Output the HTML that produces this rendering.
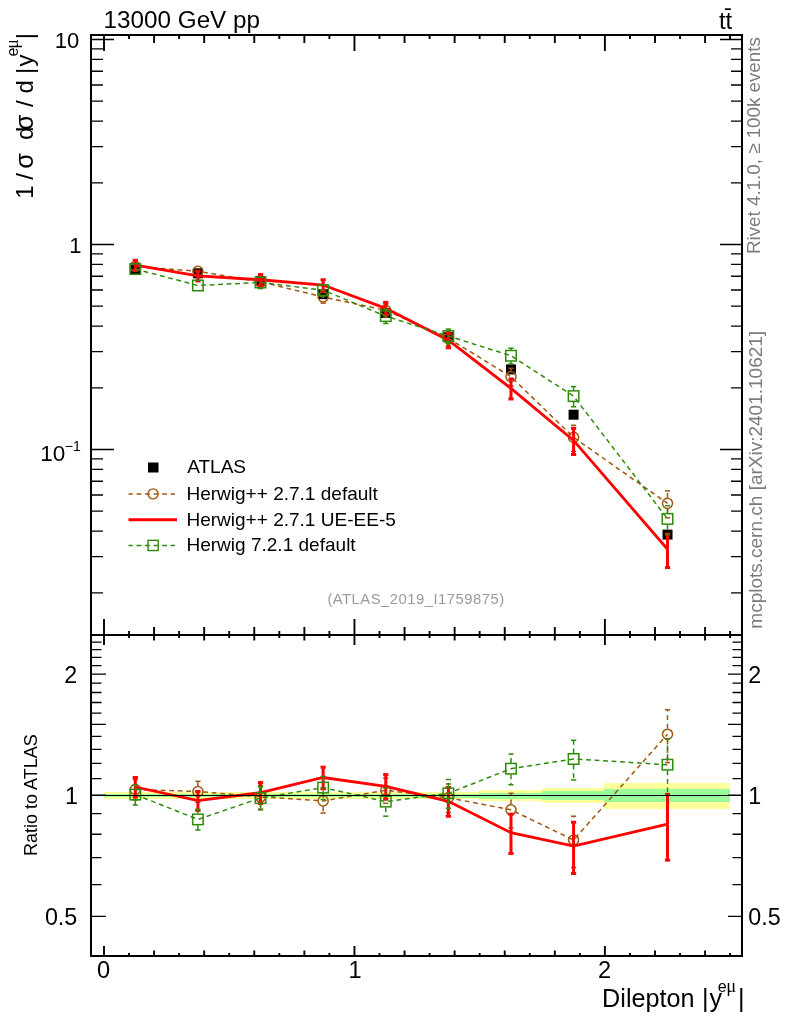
<!DOCTYPE html>
<html lang="en"><head><meta charset="utf-8"><title>Dilepton |y| : ATLAS_2019_I1759875</title>
<style>html,body{margin:0;padding:0;background:#fff;}svg{display:block;}text{font-family:"Liberation Sans", "DejaVu Sans", sans-serif;}</style></head><body>
<svg width="786" height="1024" viewBox="0 0 786 1024">
<rect x="0" y="0" width="786" height="1024" fill="#ffffff"/>
<g shape-rendering="crispEdges">
<rect x="103.5" y="792.4" width="62.61" height="6.2" fill="#ffff99"/>
<rect x="166.11" y="792.4" width="62.61" height="6.2" fill="#ffff99"/>
<rect x="228.72" y="792.4" width="62.61" height="6.2" fill="#ffff99"/>
<rect x="291.34" y="792.3" width="62.61" height="6.4" fill="#ffff99"/>
<rect x="353.95" y="792.1" width="62.61" height="6.8" fill="#ffff99"/>
<rect x="416.56" y="791.6" width="62.61" height="7.8" fill="#ffff99"/>
<rect x="479.17" y="789.9" width="62.61" height="11.2" fill="#ffff99"/>
<rect x="541.79" y="787.7" width="62.61" height="15.6" fill="#ffff99"/>
<rect x="604.4" y="782.5" width="125.23" height="26" fill="#ffff99"/>
<rect x="103.5" y="794.2" width="62.61" height="2.6" fill="#99fb99"/>
<rect x="166.11" y="794.2" width="62.61" height="2.6" fill="#99fb99"/>
<rect x="228.72" y="794.2" width="62.61" height="2.6" fill="#99fb99"/>
<rect x="291.34" y="794.1" width="62.61" height="2.8" fill="#99fb99"/>
<rect x="353.95" y="793.9" width="62.61" height="3.2" fill="#99fb99"/>
<rect x="416.56" y="793.5" width="62.61" height="4" fill="#99fb99"/>
<rect x="479.17" y="792.5" width="62.61" height="6" fill="#99fb99"/>
<rect x="541.79" y="791.3" width="62.61" height="8.4" fill="#99fb99"/>
<rect x="604.4" y="789.2" width="125.23" height="12.6" fill="#99fb99"/>
</g>
<g id="main-data">
<g fill="#000"><rect x="130.31" y="264.5" width="10" height="10"/><rect x="192.92" y="268.3" width="10" height="10"/><rect x="255.53" y="276.2" width="10" height="10"/><rect x="318.14" y="289.2" width="10" height="10"/><rect x="380.76" y="308" width="10" height="10"/><rect x="443.37" y="332.2" width="10" height="10"/><rect x="505.98" y="364.4" width="10" height="10"/><rect x="568.59" y="409.7" width="10" height="10"/><rect x="662.51" y="529.6" width="10" height="10"/></g>
<polyline points="135.31,266.44 197.92,271.26 260.53,281.86 323.14,296.95 385.76,310.35 448.37,338.32 510.98,376.69 573.59,437.39 667.51,503.34" fill="none" stroke="#a0560f" stroke-width="1.5" stroke-linejoin="miter" stroke-dasharray="4.8 3.7"/>
<g stroke="#a0560f" stroke-width="1.5" fill="none"><line x1="260.53" y1="276.26" x2="260.53" y2="276.01" stroke-dasharray="4.8 3.7"/><line x1="257.93" y1="276.01" x2="263.13" y2="276.01"/><line x1="260.53" y1="287.46" x2="260.53" y2="288.13" stroke-dasharray="4.8 3.7"/><line x1="257.93" y1="288.13" x2="263.13" y2="288.13"/><line x1="323.14" y1="291.35" x2="323.14" y2="291.18" stroke-dasharray="4.8 3.7"/><line x1="320.54" y1="291.18" x2="325.74" y2="291.18"/><line x1="323.14" y1="302.55" x2="323.14" y2="303.13" stroke-dasharray="4.8 3.7"/><line x1="320.54" y1="303.13" x2="325.74" y2="303.13"/><line x1="385.76" y1="304.75" x2="385.76" y2="304.16" stroke-dasharray="4.8 3.7"/><line x1="383.16" y1="304.16" x2="388.36" y2="304.16"/><line x1="385.76" y1="315.95" x2="385.76" y2="317" stroke-dasharray="4.8 3.7"/><line x1="383.16" y1="317" x2="388.36" y2="317"/><line x1="448.37" y1="332.72" x2="448.37" y2="331.31" stroke-dasharray="4.8 3.7"/><line x1="445.77" y1="331.31" x2="450.97" y2="331.31"/><line x1="448.37" y1="343.92" x2="448.37" y2="345.94" stroke-dasharray="4.8 3.7"/><line x1="445.77" y1="345.94" x2="450.97" y2="345.94"/><line x1="510.98" y1="371.09" x2="510.98" y2="368.29" stroke-dasharray="4.8 3.7"/><line x1="508.38" y1="368.29" x2="513.58" y2="368.29"/><line x1="510.98" y1="382.29" x2="510.98" y2="385.97" stroke-dasharray="4.8 3.7"/><line x1="508.38" y1="385.97" x2="513.58" y2="385.97"/><line x1="573.59" y1="431.79" x2="573.59" y2="425.26" stroke-dasharray="4.8 3.7"/><line x1="570.99" y1="425.26" x2="576.19" y2="425.26"/><line x1="573.59" y1="442.99" x2="573.59" y2="451.44" stroke-dasharray="4.8 3.7"/><line x1="570.99" y1="451.44" x2="576.19" y2="451.44"/><line x1="667.51" y1="497.74" x2="667.51" y2="490.9" stroke-dasharray="4.8 3.7"/><line x1="664.91" y1="490.9" x2="670.11" y2="490.9"/><line x1="667.51" y1="508.94" x2="667.51" y2="517.81" stroke-dasharray="4.8 3.7"/><line x1="664.91" y1="517.81" x2="670.11" y2="517.81"/></g>
<g fill="none" stroke="#a0560f" stroke-width="1.5"><circle cx="135.31" cy="266.44" r="5.05"/><circle cx="197.92" cy="271.26" r="5.05"/><circle cx="260.53" cy="281.86" r="5.05"/><circle cx="323.14" cy="296.95" r="5.05"/><circle cx="385.76" cy="310.35" r="5.05"/><circle cx="448.37" cy="338.32" r="5.05"/><circle cx="510.98" cy="376.69" r="5.05"/><circle cx="573.59" cy="437.39" r="5.05"/><circle cx="667.51" cy="503.34" r="5.05"/></g>
<polyline points="135.31,265.17 197.92,275.95 260.53,279.77 323.14,285.02 385.76,308.36 448.37,340.16 510.98,388.37 573.59,440.45 667.51,549.24" fill="none" stroke="#ff0000" stroke-width="2.8" stroke-linejoin="miter"/>
<g stroke="#ff0000" stroke-width="3" fill="none"><line x1="135.31" y1="265.17" x2="135.31" y2="260.31"/><line x1="132.71" y1="260.31" x2="137.91" y2="260.31"/><line x1="135.31" y1="265.17" x2="135.31" y2="270.3"/><line x1="132.71" y1="270.3" x2="137.91" y2="270.3"/><line x1="197.92" y1="275.95" x2="197.92" y2="271.27"/><line x1="195.32" y1="271.27" x2="200.52" y2="271.27"/><line x1="197.92" y1="275.95" x2="197.92" y2="280.89"/><line x1="195.32" y1="280.89" x2="200.52" y2="280.89"/><line x1="260.53" y1="279.77" x2="260.53" y2="274.58"/><line x1="257.93" y1="274.58" x2="263.13" y2="274.58"/><line x1="260.53" y1="279.77" x2="260.53" y2="285.28"/><line x1="257.93" y1="285.28" x2="263.13" y2="285.28"/><line x1="323.14" y1="285.02" x2="323.14" y2="279.75"/><line x1="320.54" y1="279.75" x2="325.74" y2="279.75"/><line x1="323.14" y1="285.02" x2="323.14" y2="290.62"/><line x1="320.54" y1="290.62" x2="325.74" y2="290.62"/><line x1="385.76" y1="308.36" x2="385.76" y2="302.34"/><line x1="383.16" y1="302.34" x2="388.36" y2="302.34"/><line x1="385.76" y1="308.36" x2="385.76" y2="314.82"/><line x1="383.16" y1="314.82" x2="388.36" y2="314.82"/><line x1="448.37" y1="340.16" x2="448.37" y2="333.14"/><line x1="445.77" y1="333.14" x2="450.97" y2="333.14"/><line x1="448.37" y1="340.16" x2="448.37" y2="347.77"/><line x1="445.77" y1="347.77" x2="450.97" y2="347.77"/><line x1="510.98" y1="388.37" x2="510.98" y2="378.92"/><line x1="508.38" y1="378.92" x2="513.58" y2="378.92"/><line x1="510.98" y1="388.37" x2="510.98" y2="398.95"/><line x1="508.38" y1="398.95" x2="513.58" y2="398.95"/><line x1="573.59" y1="440.45" x2="573.59" y2="428.32"/><line x1="570.99" y1="428.32" x2="576.19" y2="428.32"/><line x1="573.59" y1="440.45" x2="573.59" y2="454.5"/><line x1="570.99" y1="454.5" x2="576.19" y2="454.5"/><line x1="667.51" y1="549.24" x2="667.51" y2="534.05"/><line x1="664.91" y1="534.05" x2="670.11" y2="534.05"/><line x1="667.51" y1="549.24" x2="667.51" y2="567.56"/><line x1="664.91" y1="567.56" x2="670.11" y2="567.56"/></g>
<polyline points="135.31,269.04 197.92,285.49 260.53,282.47 323.14,290.17 385.76,316.11 448.37,336.08 510.98,355.73 573.59,396.09 667.51,518.89" fill="none" stroke="#2e8b0a" stroke-width="1.5" stroke-linejoin="miter" stroke-dasharray="4.8 3.7"/>
<g stroke="#2e8b0a" stroke-width="1.5" fill="none"><line x1="260.53" y1="288.27" x2="260.53" y2="288.55" stroke-dasharray="4.8 3.7"/><line x1="257.93" y1="288.55" x2="263.13" y2="288.55"/><line x1="323.14" y1="295.97" x2="323.14" y2="296.25" stroke-dasharray="4.8 3.7"/><line x1="320.54" y1="296.25" x2="325.74" y2="296.25"/><line x1="385.76" y1="310.31" x2="385.76" y2="309.26" stroke-dasharray="4.8 3.7"/><line x1="383.16" y1="309.26" x2="388.36" y2="309.26"/><line x1="385.76" y1="321.91" x2="385.76" y2="323.53" stroke-dasharray="4.8 3.7"/><line x1="383.16" y1="323.53" x2="388.36" y2="323.53"/><line x1="448.37" y1="330.28" x2="448.37" y2="329.06" stroke-dasharray="4.8 3.7"/><line x1="445.77" y1="329.06" x2="450.97" y2="329.06"/><line x1="448.37" y1="341.88" x2="448.37" y2="343.7" stroke-dasharray="4.8 3.7"/><line x1="445.77" y1="343.7" x2="450.97" y2="343.7"/><line x1="510.98" y1="349.93" x2="510.98" y2="348.22" stroke-dasharray="4.8 3.7"/><line x1="508.38" y1="348.22" x2="513.58" y2="348.22"/><line x1="510.98" y1="361.53" x2="510.98" y2="363.93" stroke-dasharray="4.8 3.7"/><line x1="508.38" y1="363.93" x2="513.58" y2="363.93"/><line x1="573.59" y1="390.29" x2="573.59" y2="386.56" stroke-dasharray="4.8 3.7"/><line x1="570.99" y1="386.56" x2="576.19" y2="386.56"/><line x1="573.59" y1="401.89" x2="573.59" y2="406.76" stroke-dasharray="4.8 3.7"/><line x1="570.99" y1="406.76" x2="576.19" y2="406.76"/><line x1="667.51" y1="513.09" x2="667.51" y2="505.68" stroke-dasharray="4.8 3.7"/><line x1="664.91" y1="505.68" x2="670.11" y2="505.68"/><line x1="667.51" y1="524.69" x2="667.51" y2="534.42" stroke-dasharray="4.8 3.7"/><line x1="664.91" y1="534.42" x2="670.11" y2="534.42"/></g>
<g fill="none" stroke="#2e8b0a" stroke-width="1.5"><rect x="130.06" y="263.79" width="10.5" height="10.5"/><rect x="192.67" y="280.24" width="10.5" height="10.5"/><rect x="255.28" y="277.22" width="10.5" height="10.5"/><rect x="317.89" y="284.92" width="10.5" height="10.5"/><rect x="380.51" y="310.86" width="10.5" height="10.5"/><rect x="443.12" y="330.83" width="10.5" height="10.5"/><rect x="505.73" y="350.48" width="10.5" height="10.5"/><rect x="568.34" y="390.84" width="10.5" height="10.5"/><rect x="662.26" y="513.64" width="10.5" height="10.5"/></g>
</g>
<g id="ratio-data">
<polyline points="135.31,789.5 197.92,791.5 260.53,796.8 323.14,800.9 385.76,790.3 448.37,797.7 510.98,809.8 573.59,840 667.51,734.2" fill="none" stroke="#a0560f" stroke-width="1.5" stroke-linejoin="miter" stroke-dasharray="4.8 3.7"/>
<g stroke="#a0560f" stroke-width="1.5" fill="none"><line x1="135.31" y1="783.9" x2="135.31" y2="779.66" stroke-dasharray="4.8 3.7"/><line x1="132.71" y1="779.66" x2="137.91" y2="779.66"/><line x1="135.31" y1="795.1" x2="135.31" y2="799.93" stroke-dasharray="4.8 3.7"/><line x1="132.71" y1="799.93" x2="137.91" y2="799.93"/><line x1="197.92" y1="785.9" x2="197.92" y2="781.33" stroke-dasharray="4.8 3.7"/><line x1="195.32" y1="781.33" x2="200.52" y2="781.33"/><line x1="197.92" y1="797.1" x2="197.92" y2="802.3" stroke-dasharray="4.8 3.7"/><line x1="195.32" y1="802.3" x2="200.52" y2="802.3"/><line x1="260.53" y1="791.2" x2="260.53" y2="785.31" stroke-dasharray="4.8 3.7"/><line x1="257.93" y1="785.31" x2="263.13" y2="785.31"/><line x1="260.53" y1="802.4" x2="260.53" y2="809.09" stroke-dasharray="4.8 3.7"/><line x1="257.93" y1="809.09" x2="263.13" y2="809.09"/><line x1="323.14" y1="795.3" x2="323.14" y2="789.58" stroke-dasharray="4.8 3.7"/><line x1="320.54" y1="789.58" x2="325.74" y2="789.58"/><line x1="323.14" y1="806.5" x2="323.14" y2="813.01" stroke-dasharray="4.8 3.7"/><line x1="320.54" y1="813.01" x2="325.74" y2="813.01"/><line x1="385.76" y1="784.7" x2="385.76" y2="778.16" stroke-dasharray="4.8 3.7"/><line x1="383.16" y1="778.16" x2="388.36" y2="778.16"/><line x1="385.76" y1="795.9" x2="385.76" y2="803.35" stroke-dasharray="4.8 3.7"/><line x1="383.16" y1="803.35" x2="388.36" y2="803.35"/><line x1="448.37" y1="792.1" x2="448.37" y2="783.94" stroke-dasharray="4.8 3.7"/><line x1="445.77" y1="783.94" x2="450.97" y2="783.94"/><line x1="448.37" y1="803.3" x2="448.37" y2="812.64" stroke-dasharray="4.8 3.7"/><line x1="445.77" y1="812.64" x2="450.97" y2="812.64"/><line x1="510.98" y1="804.2" x2="510.98" y2="793.32" stroke-dasharray="4.8 3.7"/><line x1="508.38" y1="793.32" x2="513.58" y2="793.32"/><line x1="510.98" y1="815.4" x2="510.98" y2="828" stroke-dasharray="4.8 3.7"/><line x1="508.38" y1="828" x2="513.58" y2="828"/><line x1="573.59" y1="834.4" x2="573.59" y2="816.21" stroke-dasharray="4.8 3.7"/><line x1="570.99" y1="816.21" x2="576.19" y2="816.21"/><line x1="573.59" y1="845.6" x2="573.59" y2="867.55" stroke-dasharray="4.8 3.7"/><line x1="570.99" y1="867.55" x2="576.19" y2="867.55"/><line x1="667.51" y1="728.6" x2="667.51" y2="709.8" stroke-dasharray="4.8 3.7"/><line x1="664.91" y1="709.8" x2="670.11" y2="709.8"/><line x1="667.51" y1="739.8" x2="667.51" y2="762.57" stroke-dasharray="4.8 3.7"/><line x1="664.91" y1="762.57" x2="670.11" y2="762.57"/></g>
<g fill="none" stroke="#a0560f" stroke-width="1.5"><circle cx="135.31" cy="789.5" r="5.05"/><circle cx="197.92" cy="791.5" r="5.05"/><circle cx="260.53" cy="796.8" r="5.05"/><circle cx="323.14" cy="800.9" r="5.05"/><circle cx="385.76" cy="790.3" r="5.05"/><circle cx="448.37" cy="797.7" r="5.05"/><circle cx="510.98" cy="809.8" r="5.05"/><circle cx="573.59" cy="840" r="5.05"/><circle cx="667.51" cy="734.2" r="5.05"/></g>
<polyline points="135.31,787 197.92,800.7 260.53,792.7 323.14,777.5 385.76,786.4 448.37,801.3 510.98,832.7 573.59,846 667.51,824.2" fill="none" stroke="#ff0000" stroke-width="2.8" stroke-linejoin="miter"/>
<g stroke="#ff0000" stroke-width="3" fill="none"><line x1="135.31" y1="787" x2="135.31" y2="777.49"/><line x1="132.71" y1="777.49" x2="137.91" y2="777.49"/><line x1="135.31" y1="787" x2="135.31" y2="797.06"/><line x1="132.71" y1="797.06" x2="137.91" y2="797.06"/><line x1="197.92" y1="800.7" x2="197.92" y2="791.52"/><line x1="195.32" y1="791.52" x2="200.52" y2="791.52"/><line x1="197.92" y1="800.7" x2="197.92" y2="810.39"/><line x1="195.32" y1="810.39" x2="200.52" y2="810.39"/><line x1="260.53" y1="792.7" x2="260.53" y2="782.53"/><line x1="257.93" y1="782.53" x2="263.13" y2="782.53"/><line x1="260.53" y1="792.7" x2="260.53" y2="803.5"/><line x1="257.93" y1="803.5" x2="263.13" y2="803.5"/><line x1="323.14" y1="777.5" x2="323.14" y2="767.16"/><line x1="320.54" y1="767.16" x2="325.74" y2="767.16"/><line x1="323.14" y1="777.5" x2="323.14" y2="788.49"/><line x1="320.54" y1="788.49" x2="325.74" y2="788.49"/><line x1="385.76" y1="786.4" x2="385.76" y2="774.59"/><line x1="383.16" y1="774.59" x2="388.36" y2="774.59"/><line x1="385.76" y1="786.4" x2="385.76" y2="799.07"/><line x1="383.16" y1="799.07" x2="388.36" y2="799.07"/><line x1="448.37" y1="801.3" x2="448.37" y2="787.54"/><line x1="445.77" y1="787.54" x2="450.97" y2="787.54"/><line x1="448.37" y1="801.3" x2="448.37" y2="816.24"/><line x1="445.77" y1="816.24" x2="450.97" y2="816.24"/><line x1="510.98" y1="832.7" x2="510.98" y2="814.17"/><line x1="508.38" y1="814.17" x2="513.58" y2="814.17"/><line x1="510.98" y1="832.7" x2="510.98" y2="853.44"/><line x1="508.38" y1="853.44" x2="513.58" y2="853.44"/><line x1="573.59" y1="846" x2="573.59" y2="822.21"/><line x1="570.99" y1="822.21" x2="576.19" y2="822.21"/><line x1="573.59" y1="846" x2="573.59" y2="873.55"/><line x1="570.99" y1="873.55" x2="576.19" y2="873.55"/><line x1="667.51" y1="824.2" x2="667.51" y2="794.42"/><line x1="664.91" y1="794.42" x2="670.11" y2="794.42"/><line x1="667.51" y1="824.2" x2="667.51" y2="860.13"/><line x1="664.91" y1="860.13" x2="670.11" y2="860.13"/></g>
<polyline points="135.31,794.6 197.92,819.4 260.53,798 323.14,787.6 385.76,801.6 448.37,793.3 510.98,768.7 573.59,759 667.51,764.7" fill="none" stroke="#2e8b0a" stroke-width="1.5" stroke-linejoin="miter" stroke-dasharray="4.8 3.7"/>
<g stroke="#2e8b0a" stroke-width="1.5" fill="none"><line x1="135.31" y1="788.8" x2="135.31" y2="784.76" stroke-dasharray="4.8 3.7"/><line x1="132.71" y1="784.76" x2="137.91" y2="784.76"/><line x1="135.31" y1="800.4" x2="135.31" y2="805.03" stroke-dasharray="4.8 3.7"/><line x1="132.71" y1="805.03" x2="137.91" y2="805.03"/><line x1="197.92" y1="813.6" x2="197.92" y2="809.39" stroke-dasharray="4.8 3.7"/><line x1="195.32" y1="809.39" x2="200.52" y2="809.39"/><line x1="197.92" y1="825.2" x2="197.92" y2="830.02" stroke-dasharray="4.8 3.7"/><line x1="195.32" y1="830.02" x2="200.52" y2="830.02"/><line x1="260.53" y1="792.2" x2="260.53" y2="786.84" stroke-dasharray="4.8 3.7"/><line x1="257.93" y1="786.84" x2="263.13" y2="786.84"/><line x1="260.53" y1="803.8" x2="260.53" y2="809.92" stroke-dasharray="4.8 3.7"/><line x1="257.93" y1="809.92" x2="263.13" y2="809.92"/><line x1="323.14" y1="781.8" x2="323.14" y2="776.44" stroke-dasharray="4.8 3.7"/><line x1="320.54" y1="776.44" x2="325.74" y2="776.44"/><line x1="323.14" y1="793.4" x2="323.14" y2="799.52" stroke-dasharray="4.8 3.7"/><line x1="320.54" y1="799.52" x2="325.74" y2="799.52"/><line x1="385.76" y1="795.8" x2="385.76" y2="788.16" stroke-dasharray="4.8 3.7"/><line x1="383.16" y1="788.16" x2="388.36" y2="788.16"/><line x1="385.76" y1="807.4" x2="385.76" y2="816.16" stroke-dasharray="4.8 3.7"/><line x1="383.16" y1="816.16" x2="388.36" y2="816.16"/><line x1="448.37" y1="787.5" x2="448.37" y2="779.54" stroke-dasharray="4.8 3.7"/><line x1="445.77" y1="779.54" x2="450.97" y2="779.54"/><line x1="448.37" y1="799.1" x2="448.37" y2="808.24" stroke-dasharray="4.8 3.7"/><line x1="445.77" y1="808.24" x2="450.97" y2="808.24"/><line x1="510.98" y1="762.9" x2="510.98" y2="753.98" stroke-dasharray="4.8 3.7"/><line x1="508.38" y1="753.98" x2="513.58" y2="753.98"/><line x1="510.98" y1="774.5" x2="510.98" y2="784.78" stroke-dasharray="4.8 3.7"/><line x1="508.38" y1="784.78" x2="513.58" y2="784.78"/><line x1="573.59" y1="753.2" x2="573.59" y2="740.31" stroke-dasharray="4.8 3.7"/><line x1="570.99" y1="740.31" x2="576.19" y2="740.31"/><line x1="573.59" y1="764.8" x2="573.59" y2="779.93" stroke-dasharray="4.8 3.7"/><line x1="570.99" y1="779.93" x2="576.19" y2="779.93"/><line x1="667.51" y1="758.9" x2="667.51" y2="738.79" stroke-dasharray="4.8 3.7"/><line x1="664.91" y1="738.79" x2="670.11" y2="738.79"/><line x1="667.51" y1="770.5" x2="667.51" y2="795.14" stroke-dasharray="4.8 3.7"/><line x1="664.91" y1="795.14" x2="670.11" y2="795.14"/></g>
<g fill="none" stroke="#2e8b0a" stroke-width="1.5"><rect x="130.06" y="789.35" width="10.5" height="10.5"/><rect x="192.67" y="814.15" width="10.5" height="10.5"/><rect x="255.28" y="792.75" width="10.5" height="10.5"/><rect x="317.89" y="782.35" width="10.5" height="10.5"/><rect x="380.51" y="796.35" width="10.5" height="10.5"/><rect x="443.12" y="788.05" width="10.5" height="10.5"/><rect x="505.73" y="763.45" width="10.5" height="10.5"/><rect x="568.34" y="753.75" width="10.5" height="10.5"/><rect x="662.26" y="759.45" width="10.5" height="10.5"/></g>
</g>
<line x1="91" y1="795.5" x2="742" y2="795.5" stroke="#000" stroke-width="1.2"/>
<g fill="none" stroke="#000" stroke-width="2" shape-rendering="crispEdges">
<rect x="91" y="35" width="651" height="600"/>
<rect x="91" y="635" width="651" height="321"/>
</g>
<path d="M91 39.5H114M720 39.5H742M91 244.5H114M720 244.5H742M91 182.79H103M731 182.79H742M91 146.69H103M731 146.69H742M91 121.08H103M731 121.08H742M91 101.21H103M731 101.21H742M91 84.98H103M731 84.98H742M91 71.25H103M731 71.25H742M91 59.37H103M731 59.37H742M91 48.88H103M731 48.88H742M91 449.5H114M720 449.5H742M91 387.79H103M731 387.79H742M91 351.69H103M731 351.69H742M91 326.08H103M731 326.08H742M91 306.21H103M731 306.21H742M91 289.98H103M731 289.98H742M91 276.25H103M731 276.25H742M91 264.37H103M731 264.37H742M91 253.88H103M731 253.88H742M91 592.79H103M731 592.79H742M91 556.69H103M731 556.69H742M91 531.08H103M731 531.08H742M91 511.21H103M731 511.21H742M91 494.98H103M731 494.98H742M91 481.25H103M731 481.25H742M91 469.37H103M731 469.37H742M91 458.88H103M731 458.88H742M91 916.41H106M728 916.41H742M91 884.54H101.5M732.5 884.54H742M91 857.6H101.5M732.5 857.6H742M91 834.26H101.5M732.5 834.26H742M91 813.67H101.5M732.5 813.67H742M91 795.25H106M728 795.25H742M91 778.59H101.5M732.5 778.59H742M91 763.38H101.5M732.5 763.38H742M91 749.39H101.5M732.5 749.39H742M91 736.43H101.5M732.5 736.43H742M91 724.37H106M728 724.37H742M91 713.09H101.5M732.5 713.09H742M91 702.49H101.5M732.5 702.49H742M91 692.5H101.5M732.5 692.5H742M91 683.05H101.5M732.5 683.05H742M91 674.09H106M728 674.09H742M91 665.56H101.5M732.5 665.56H742M91 657.42H101.5M732.5 657.42H742M91 649.65H101.5M732.5 649.65H742M91 642.21H101.5M732.5 642.21H742" fill="none" stroke="#000" stroke-width="1.3"/>
<path d="M104 35V51M104 619V645M104 946V956M129.05 35V39M129.05 631V638.1M129.05 952.9V956M154.09 35V43M154.09 627V640.5M154.09 950.5V956M179.13 35V39M179.13 631V638.1M179.13 952.9V956M204.18 35V43M204.18 627V640.5M204.18 950.5V956M229.22 35V39M229.22 631V638.1M229.22 952.9V956M254.27 35V43M254.27 627V640.5M254.27 950.5V956M279.31 35V39M279.31 631V638.1M279.31 952.9V956M304.36 35V43M304.36 627V640.5M304.36 950.5V956M329.4 35V39M329.4 631V638.1M329.4 952.9V956M354.45 35V51M354.45 619V645M354.45 946V956M379.5 35V39M379.5 631V638.1M379.5 952.9V956M404.54 35V43M404.54 627V640.5M404.54 950.5V956M429.58 35V39M429.58 631V638.1M429.58 952.9V956M454.63 35V43M454.63 627V640.5M454.63 950.5V956M479.67 35V39M479.67 631V638.1M479.67 952.9V956M504.72 35V43M504.72 627V640.5M504.72 950.5V956M529.76 35V39M529.76 631V638.1M529.76 952.9V956M554.81 35V43M554.81 627V640.5M554.81 950.5V956M579.86 35V39M579.86 631V638.1M579.86 952.9V956M604.9 35V51M604.9 619V645M604.9 946V956M629.95 35V39M629.95 631V638.1M629.95 952.9V956M654.99 35V43M654.99 627V640.5M654.99 950.5V956M680.03 35V39M680.03 631V638.1M680.03 952.9V956M705.08 35V43M705.08 627V640.5M705.08 950.5V956M730.12 35V39M730.12 631V638.1M730.12 952.9V956" fill="none" stroke="#000" stroke-width="1.9"/>
<g fill="#000">
<text x="103.6" y="28.1" font-size="24.25">13000 GeV pp</text>
<text x="732.3" y="29.3" font-size="24" text-anchor="end">tt</text>
<rect x="724.9" y="8.3" width="6" height="1.7"/>
<text x="79.3" y="47.8" font-size="22" text-anchor="end">10</text>
<text x="81.5" y="253" font-size="22" text-anchor="end">1</text>
<text x="65.2" y="461.2" font-size="22.5" text-anchor="end">10</text>
<text x="64.8" y="450.8" font-size="14">&#8722;1</text>
<text x="77.3" y="682.69" font-size="23.3" text-anchor="end">2</text>
<text x="748.3" y="682.69" font-size="23.3">2</text>
<text x="78" y="803.85" font-size="23.3" text-anchor="end">1</text>
<text x="748.3" y="803.85" font-size="23.3">1</text>
<text x="77.3" y="925.01" font-size="23.3" text-anchor="end">0.5</text>
<text x="748.3" y="925.01" font-size="23.3">0.5</text>
<text x="103.5" y="978" font-size="23.6" text-anchor="middle">0</text>
<text x="355.05" y="978" font-size="23.6" text-anchor="middle">1</text>
<text x="604.5" y="978" font-size="23.6" text-anchor="middle">2</text>
<text y="1007.1" font-size="25.2"><tspan x="602.1">Dilepton</tspan><tspan x="702">|</tspan><tspan x="709.6">y</tspan><tspan x="717.8" dy="-15" font-size="16">e</tspan><tspan x="726.3" font-size="18.5" font-family="Liberation Serif, serif">&#956;</tspan><tspan x="737.9" dy="15" font-size="25.2">|</tspan></text>
<text transform="translate(32.9 198) rotate(-90)" font-size="24"><tspan x="-0.8">1</tspan><tspan x="18.3">/</tspan><tspan x="29.3" font-size="25.5">&#963;</tspan><tspan x="58.1">d</tspan><tspan x="67.75" font-size="25.5">&#963;</tspan><tspan x="91">/</tspan><tspan x="104.4">d</tspan><tspan x="124.1">|</tspan><tspan x="131.45">y</tspan><tspan x="141.6" dy="-14.5" font-size="16">e</tspan><tspan x="149.2" font-size="18" font-family="Liberation Serif, serif">&#956;</tspan><tspan x="158.8" dy="14.5" font-size="24">|</tspan></text>
<text transform="translate(36.5 856) rotate(-90)" font-size="18">Ratio to ATLAS</text>
</g>
<g fill="#7c7c7c">
<text transform="translate(760.1 254) rotate(-90)" font-size="18.77">Rivet 4.1.0, &#8805; 100k events</text>
<text transform="translate(762.3 628.7) rotate(-90)" font-size="19">mcplots.cern.ch [arXiv:2401.10621]</text>
</g>
<text x="416" y="603.6" font-size="14.8" letter-spacing="0.5" text-anchor="middle" fill="#9a9a9a">(ATLAS_2019_I1759875)</text>
<g id="legend">
<rect x="148" y="462.5" width="10.5" height="10" fill="#000"/>
<line x1="128.5" y1="493.9" x2="175" y2="493.9" stroke="#a0560f" stroke-width="1.5" stroke-dasharray="4.8 3.74" stroke-dashoffset="0.5"/>
<circle cx="153.1" cy="493.9" r="5" fill="none" stroke="#a0560f" stroke-width="1.4"/>
<line x1="128.5" y1="519.8" x2="177" y2="519.8" stroke="#ff0000" stroke-width="3"/>
<line x1="128.5" y1="545.45" x2="175" y2="545.45" stroke="#2e8b0a" stroke-width="1.5" stroke-dasharray="4.8 3.74" stroke-dashoffset="0.5"/>
<rect x="148" y="540.35" width="10.2" height="10.2" fill="none" stroke="#2e8b0a" stroke-width="1.4"/>
<text x="187.2" y="472.9" font-size="19.05" fill="#000">ATLAS</text>
<text x="186.4" y="499.8" font-size="19.05" fill="#000">Herwig++ 2.7.1 default</text>
<text x="186.4" y="525.6" font-size="19.05" fill="#000">Herwig++ 2.7.1 UE-EE-5</text>
<text x="186.4" y="551.1" font-size="19.05" fill="#000">Herwig 7.2.1 default</text>
</g>
</svg></body></html>
